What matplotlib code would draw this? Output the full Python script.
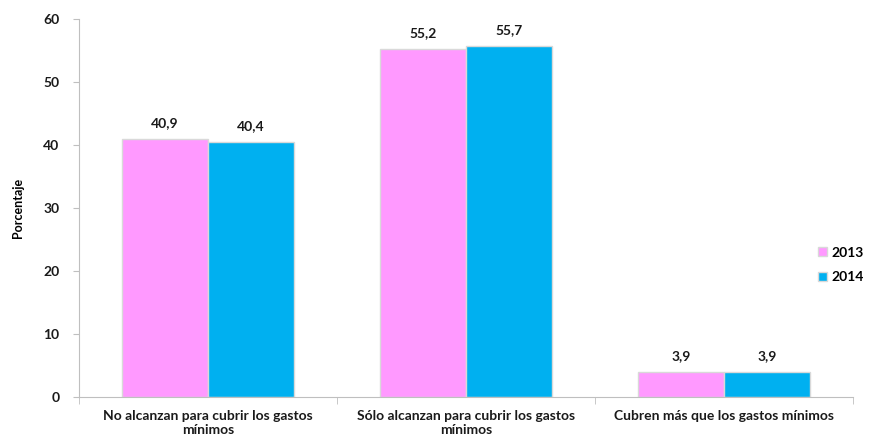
import matplotlib
matplotlib.use('Agg')
import matplotlib.pyplot as plt
import numpy as np

categories = ["No alcanzan para cubrir los gastos\nmínimos",
              "Sólo alcanzan para cubrir los gastos\nmínimos",
              "Cubren más que los gastos mínimos"]
years = ["2013", "2014"]
values_2013 = [40.9, 55.2, 3.9]
values_2014 = [40.4, 55.7, 3.9]
colors = ["#FF99FF", "#00B0F0"]

plt.rcParams['font.family'] = ['Lato', 'DejaVu Sans']
plt.rcParams['font.weight'] = 'bold'

fig = plt.figure(figsize=(8.7, 4.4), dpi=100)
ax = fig.add_axes([79 / 870, 1 - 397 / 440, (853 - 79) / 870, (397 - 19) / 440])

x = np.arange(len(categories))
w = 1 / 3
b1 = ax.bar(x - w / 2, values_2013, w, color=colors[0], edgecolor='#d9d9d9', lw=1, label=years[0])
b2 = ax.bar(x + w / 2, values_2014, w, color=colors[1], edgecolor='#d9d9d9', lw=1, label=years[1])

for bars, vals in [(b1, values_2013), (b2, values_2014)]:
    for r, v in zip(bars, vals):
        ax.text(r.get_x() + r.get_width() / 2, v + 1.6, f"{v:.1f}".replace('.', ','),
                ha='center', va='bottom', fontsize=10, fontweight='bold', color='#1a1a1a')

ax.set_xlim(-0.5, 2.5)
ax.set_ylim(0, 60)
ax.set_yticks(range(0, 61, 10))
ax.set_xticks(x)
ax.set_xticklabels(categories, fontsize=10, fontweight='bold', color='#1a1a1a', linespacing=1.25)
ax.set_xticks([-0.5, 0.5, 1.5, 2.5], minor=True)
ax.tick_params(axis='x', which='major', length=0, pad=9)
ax.tick_params(axis='x', which='minor', length=5, color='#bfbfbf', direction='out')
ax.tick_params(axis='y', length=4, color='#bfbfbf', labelsize=10, labelcolor='#1a1a1a', pad=10)
for lab in ax.get_yticklabels():
    lab.set_fontweight('bold')

for s in ['top', 'right']:
    ax.spines[s].set_visible(False)
for s in ['left', 'bottom']:
    ax.spines[s].set_color('#bfbfbf')

ax.set_ylabel('Porcentaje', fontsize=9, fontweight='bold', labelpad=14)

fig.legend(loc='center left', bbox_to_anchor=(806 / 870, 1 - 265 / 440), frameon=False,
           handlelength=0.6, handleheight=0.6, handletextpad=0.3,
           labelspacing=0.9, prop={'weight': 'bold', 'size': 10})

fig.savefig('out.png', dpi=100)
